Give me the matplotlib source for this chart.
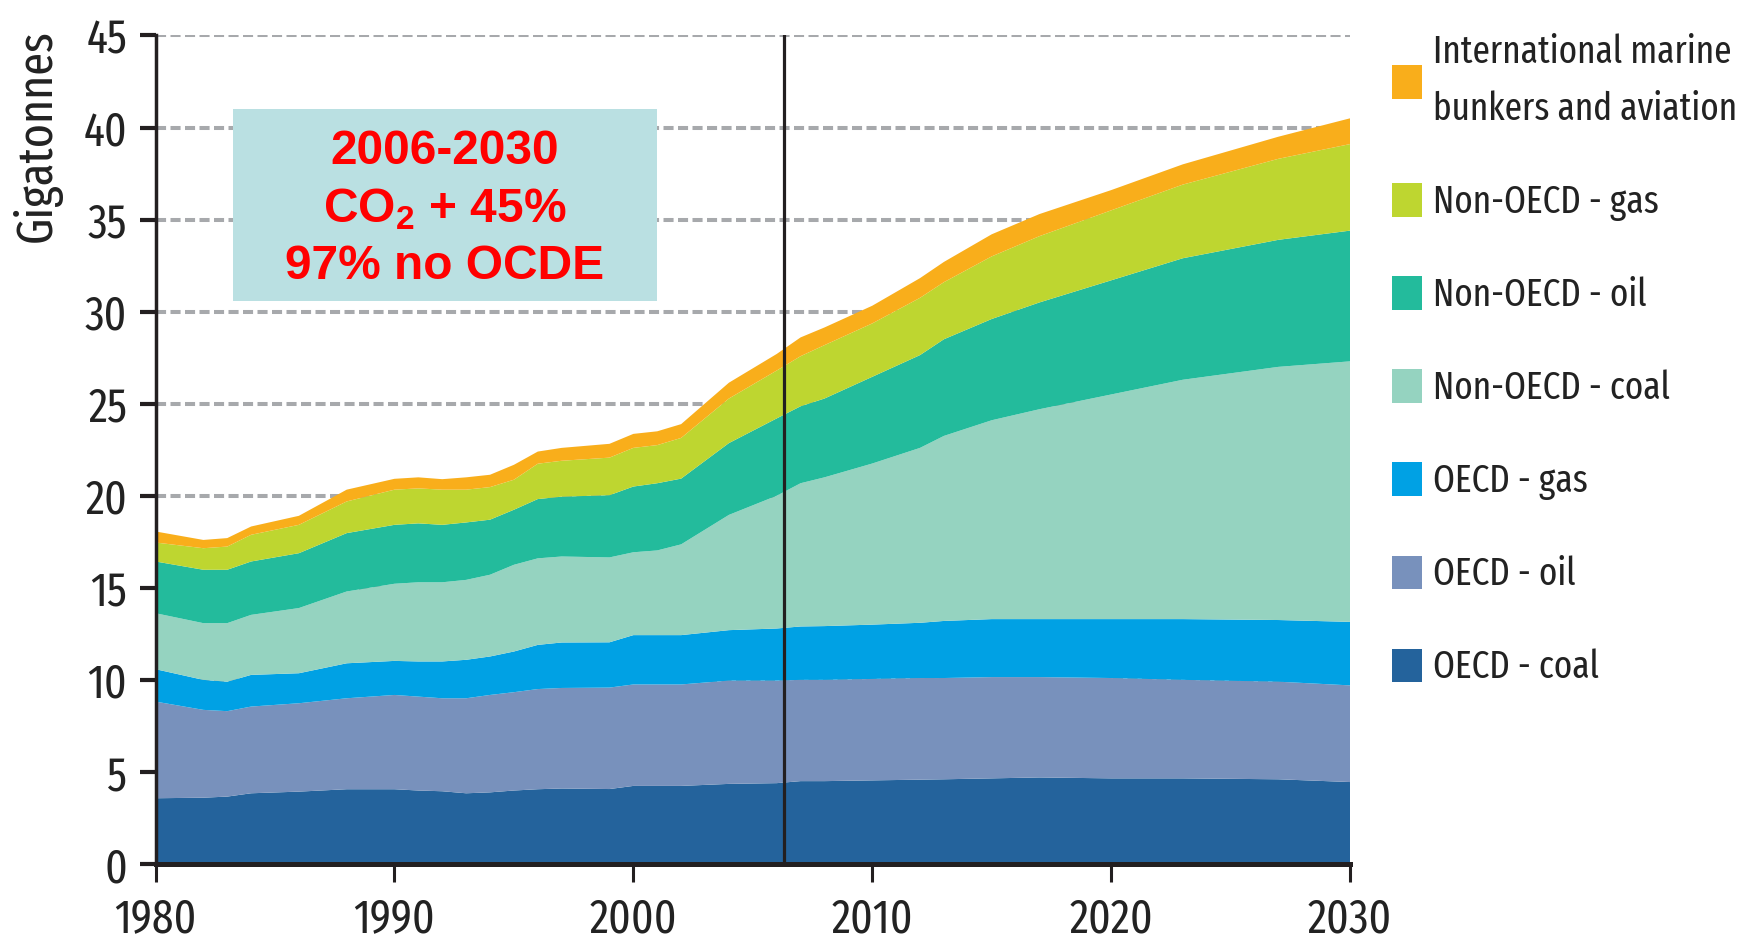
import matplotlib
matplotlib.use("Agg")
import matplotlib.pyplot as plt
import matplotlib.font_manager as fm
from matplotlib.patches import Rectangle, Patch

years = [1980, 1982, 1983, 1984, 1986, 1988, 1990, 1991, 1992, 1993, 1994, 1995,
         1996, 1997, 1999, 2000, 2001, 2002, 2004, 2006, 2007, 2008, 2010, 2012,
         2013, 2015, 2017, 2020, 2023, 2027, 2030]

# Gt CO2 per layer
oecd_coal = [3.57, 3.60, 3.66, 3.84, 3.93, 4.06, 4.06, 3.99, 3.95, 3.84, 3.89, 3.99,
             4.06, 4.10, 4.07, 4.24, 4.24, 4.24, 4.35, 4.39, 4.50, 4.50, 4.54, 4.58,
             4.60, 4.65, 4.70, 4.65, 4.65, 4.60, 4.45]
oecd_oil = [5.25, 4.77, 4.64, 4.71, 4.80, 4.94, 5.12, 5.10, 5.05, 5.16, 5.29, 5.34,
            5.44, 5.46, 5.51, 5.51, 5.51, 5.51, 5.61, 5.57, 5.50, 5.50, 5.51, 5.52,
            5.50, 5.50, 5.45, 5.45, 5.35, 5.30, 5.25]
oecd_gas = [1.76, 1.63, 1.60, 1.72, 1.63, 1.90, 1.85, 1.91, 2.00, 2.09, 2.09, 2.21,
            2.40, 2.47, 2.46, 2.68, 2.68, 2.68, 2.74, 2.83, 2.90, 2.92, 2.95, 3.00,
            3.10, 3.15, 3.15, 3.20, 3.30, 3.35, 3.45]
non_oecd_coal = [3.04, 3.08, 3.18, 3.26, 3.54, 3.90, 4.19, 4.30, 4.30, 4.34, 4.44, 4.71,
                 4.70, 4.67, 4.61, 4.50, 4.60, 4.93, 6.26, 7.21, 7.78, 8.08, 8.75, 9.50,
                 10.05, 10.80, 11.40, 12.20, 13.00, 13.75, 14.15]
non_oecd_oil = [2.81, 2.90, 2.90, 2.90, 2.98, 3.17, 3.20, 3.20, 3.12, 3.12, 2.99, 2.99,
                3.22, 3.25, 3.38, 3.57, 3.65, 3.57, 3.90, 4.20, 4.18, 4.28, 4.71, 5.04,
                5.25, 5.50, 5.80, 6.20, 6.60, 6.90, 7.10]
non_oecd_gas = [1.03, 1.17, 1.26, 1.45, 1.54, 1.72, 1.91, 1.90, 1.91, 1.78, 1.77, 1.63,
                1.92, 1.95, 2.04, 2.10, 2.07, 2.21, 2.42, 2.60, 2.72, 2.90, 2.90, 3.11,
                3.10, 3.40, 3.60, 3.80, 4.00, 4.40, 4.70]
bunkers = [0.60, 0.45, 0.46, 0.45, 0.49, 0.64, 0.59, 0.60, 0.57, 0.67, 0.67, 0.81,
           0.66, 0.70, 0.75, 0.76, 0.75, 0.75, 0.86, 0.90, 1.02, 0.96, 0.96, 1.07,
           1.10, 1.20, 1.20, 1.10, 1.10, 1.20, 1.40]

series = [oecd_coal, oecd_oil, oecd_gas, non_oecd_coal, non_oecd_oil, non_oecd_gas, bunkers]
labels = ["OECD - coal", "OECD - oil", "OECD - gas", "Non-OECD - coal",
          "Non-OECD - oil", "Non-OECD - gas",
          "International marine\nbunkers and aviation"]
colors = ["#24639c", "#7891bc", "#00a1e4", "#95d3c0", "#23bb9c", "#bed630", "#f9ae1b"]

base_year = 2006.3
note_lines = ["2006-2030", r"CO$_{\mathbf{2}}$ + 45%", "97% no OCDE"]

available = {f.name for f in fm.fontManager.ttflist}
narrow = "DejaVu Sans"
for name in ["Fira Sans Extra Condensed", "Fira Sans Condensed", "PT Sans Narrow",
             "Roboto Condensed"]:
    if name in available:
        narrow = name
        break
plt.rcParams["font.family"] = [narrow, "DejaVu Sans"]
plt.rcParams["mathtext.fontset"] = "custom"
plt.rcParams["mathtext.bf"] = "Liberation Sans:bold"
plt.rcParams["mathtext.rm"] = "Liberation Sans:bold"

ink = "#231f20"
text_ink = "#222222"

fig = plt.figure(figsize=(17.42, 9.43), dpi=100)
ax = fig.add_axes([0.0893, 0.0838, 0.6857, 0.8786])

ax.stackplot(years, *series, colors=colors, linewidth=0, zorder=2)
ax.axvline(base_year, color=ink, linewidth=2.3, zorder=4)

ax.set_xlim(1980, 2030)
ax.set_ylim(0, 45)
ax.set_xticks(range(1980, 2031, 10))
ax.set_yticks(range(0, 46, 5))

ax.set_axisbelow(True)
ax.yaxis.grid(True, color="#a7a9ac", linewidth=2.9, linestyle=(0, (2.5, 1.1)))
ax.xaxis.grid(False)

for side in ("top", "right"):
    ax.spines[side].set_visible(False)
ax.spines["left"].set_linewidth(2.5)
ax.spines["bottom"].set_linewidth(3.6)
ax.spines["left"].set_color(ink)
ax.spines["bottom"].set_color(ink)
ax.spines["bottom"].set_zorder(5)

ax.tick_params(axis="y", length=11.5, width=3, color=ink, pad=9,
               labelsize=34, labelcolor=text_ink)
ax.tick_params(axis="x", length=13, width=2.2, color=ink, pad=10,
               labelsize=34, labelcolor=text_ink)

fig.text(0.0212, 0.856, "Gigatonnes", rotation=90, ha="center", va="center",
         fontsize=36, color=text_ink)

ax.add_patch(Rectangle((0.0649, 0.6795), 0.3549, 0.2318, transform=ax.transAxes,
                       facecolor="#bae0e2", edgecolor="none", zorder=3))
for text, y in zip(note_lines, [0.860, 0.790, 0.721]):
    ax.text(0.2417, y, text, transform=ax.transAxes, ha="center", va="center",
            fontsize=34.5, fontweight="bold", color="#ff0000",
            family=["Liberation Sans", "DejaVu Sans"], zorder=6)

handles = [Patch(facecolor=c, edgecolor="none") for c in colors]
legend = fig.legend(handles[::-1], labels[::-1], loc="upper left",
                    bbox_to_anchor=(0.799, 0.965), frameon=False, fontsize=27.5,
                    handlelength=0.78, handleheight=0.97, handletextpad=0.3,
                    labelspacing=1.45, borderpad=0, borderaxespad=0,
                    labelcolor=text_ink)
for t in legend.get_texts():
    t.set_linespacing(1.67)

fig.savefig("out.png", dpi=100)
